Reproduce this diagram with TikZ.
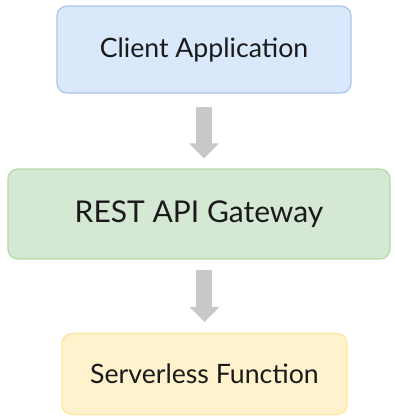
\documentclass[tikz,border=0pt]{standalone}
\usepackage{fontspec}
\setmainfont{Lato}
\usetikzlibrary{arrows.meta}

\definecolor{flInk}{HTML}{1A1A1A}
\definecolor{flBlueFill}{HTML}{DAE8FC}
\definecolor{flBlueLine}{HTML}{A9C4EB}
\definecolor{flGreenFill}{HTML}{D5E8D4}
\definecolor{flGreenLine}{HTML}{B3D9A6}
\definecolor{flGoldFill}{HTML}{FFF2CC}
\definecolor{flGoldLine}{HTML}{FFE599}
\definecolor{flArrow}{HTML}{C8C8C8}

\begin{document}
\begin{tikzpicture}[x=0.75pt, y=-0.75pt, box/.style={draw, rounded corners=7.5pt, line width=0.9pt, inner sep=0pt, align=center, text=flInk}, flow/.style={-{Triangle[width=21.75pt, length=11.25pt]}, line width=12pt, flArrow}]
\useasboundingbox (0,0) rectangle (394,419);
% the three stages, top to bottom
\node[box, fill=flBlueFill, draw=flBlueLine, minimum width=220.5pt, minimum height=65.25pt, font=\fontsize{20}{24}\selectfont] (client) at (204,49.5) {Client Application};
\node[box, fill=flGreenFill, draw=flGreenLine, minimum width=286.5pt, minimum height=67.5pt, font=\fontsize{22.5}{27}\selectfont] (gateway) at (199,214) {REST API Gateway};
\node[box, fill=flGoldFill, draw=flGoldLine, minimum width=213.75pt, minimum height=60.75pt, font=\fontsize{20}{24}\selectfont] (function) at (204.5,374) {Serverless Function};
% block arrows between the stages
\draw[flow, shorten <=9.75pt, shorten >=7.5pt] (client.south) -- (client.south |- gateway.north);
\draw[flow, shorten <=7.5pt, shorten >=8.25pt] (function.north |- gateway.south) -- (function.north);
\end{tikzpicture}
\end{document}
